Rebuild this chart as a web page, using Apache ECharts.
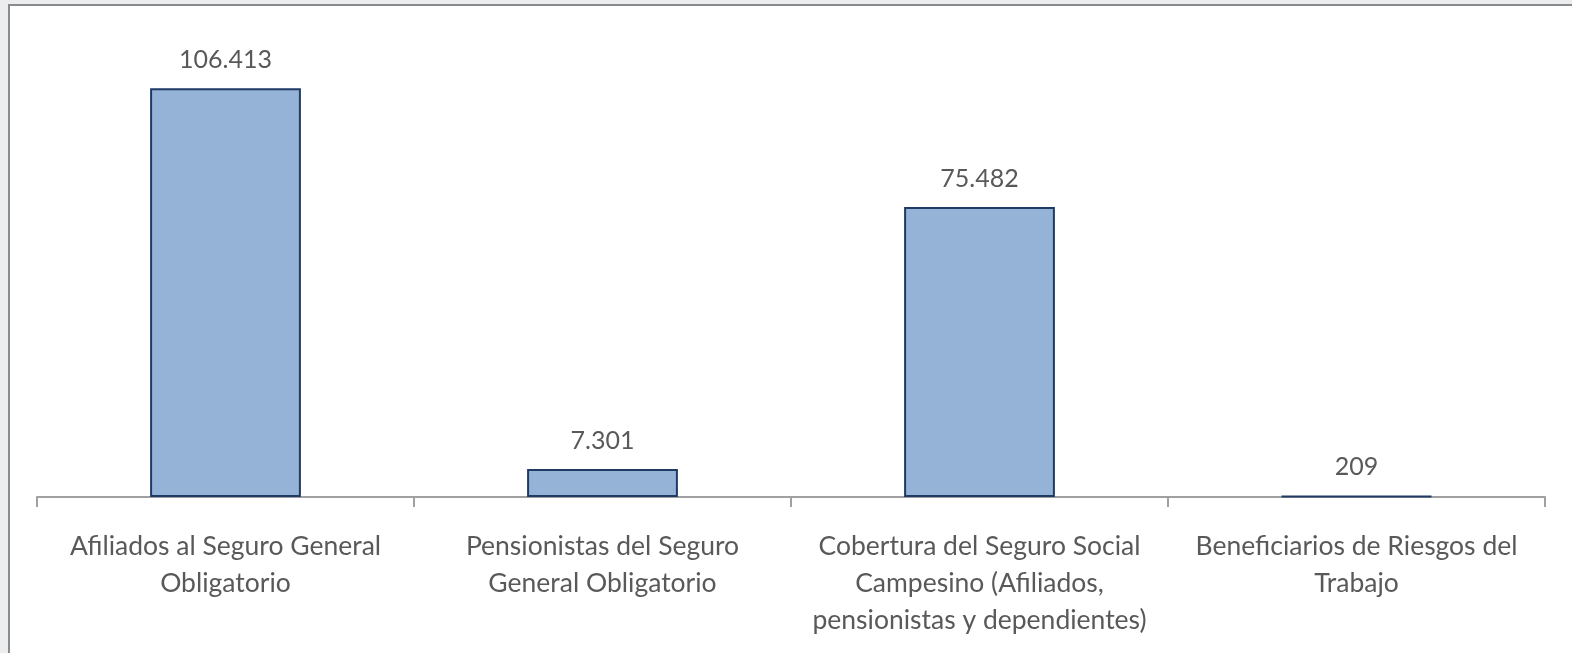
<!DOCTYPE html>
<html>
<head>
<meta charset="utf-8">
<style>
  html, body { margin: 0; padding: 0; background: #ECEDEF; }
  #chart-container { width: 1572px; height: 653px; }
</style>
<script src="https://cdn.jsdelivr.net/npm/echarts@6/dist/echarts.min.js"></script>
</head>
<body>
<div id="chart-container"></div>
<script>
var categories = [
  "Afiliados al Seguro General\nObligatorio",
  "Pensionistas del Seguro\nGeneral Obligatorio",
  "Cobertura del Seguro Social\nCampesino (Afiliados,\npensionistas y dependientes)",
  "Beneficiarios de Riesgos del\nTrabajo"
];
var values = [106413, 7301, 75482, 209];

function fmt(v) {
  return String(v).replace(/\B(?=(\d{3})+(?!\d))/g, ".");
}

var dom = document.getElementById("chart-container");
var myChart = echarts.init(dom, null, { renderer: "canvas" });

var option = {
  backgroundColor: "#ECEDEF",
  animation: false,
  textStyle: { fontFamily: "Lato" },
  graphic: [
    {
      type: "rect",
      z: -10,
      silent: true,
      shape: { x: 9, y: 5, width: 1700, height: 800 },
      style: { fill: "#fff", stroke: "#8a8a8a", lineWidth: 2 }
    }
  ],
  grid: { left: 37, right: 27, top: 36, bottom: 156 },
  xAxis: {
    type: "category",
    data: categories,
    boundaryGap: true,
    axisLine: { show: true, lineStyle: { color: "#a0a0a0", width: 2 } },
    axisTick: { show: true, alignWithLabel: false, interval: 0, length: 10, lineStyle: { color: "#a0a0a0", width: 2 } },
    axisLabel: {
      color: "#595959",
      fontSize: 26.5,
      lineHeight: 37,
      margin: 31,
      interval: 0
    }
  },
  yAxis: {
    type: "value",
    min: 0,
    max: 120000,
    show: false,
    splitLine: { show: false }
  },
  series: [
    {
      type: "bar",
      data: values,
      barWidth: "40%",
      itemStyle: { color: "#95B3D7", borderColor: "#1F3A64", borderWidth: 2 },
      label: {
        show: true,
        position: "top",
        distance: 16,
        color: "#595959",
        fontSize: 25,
        formatter: function (p) { return fmt(p.value); }
      }
    }
  ]
};

myChart.setOption(option);
window.addEventListener("resize", myChart.resize);
</script>
</body>
</html>
